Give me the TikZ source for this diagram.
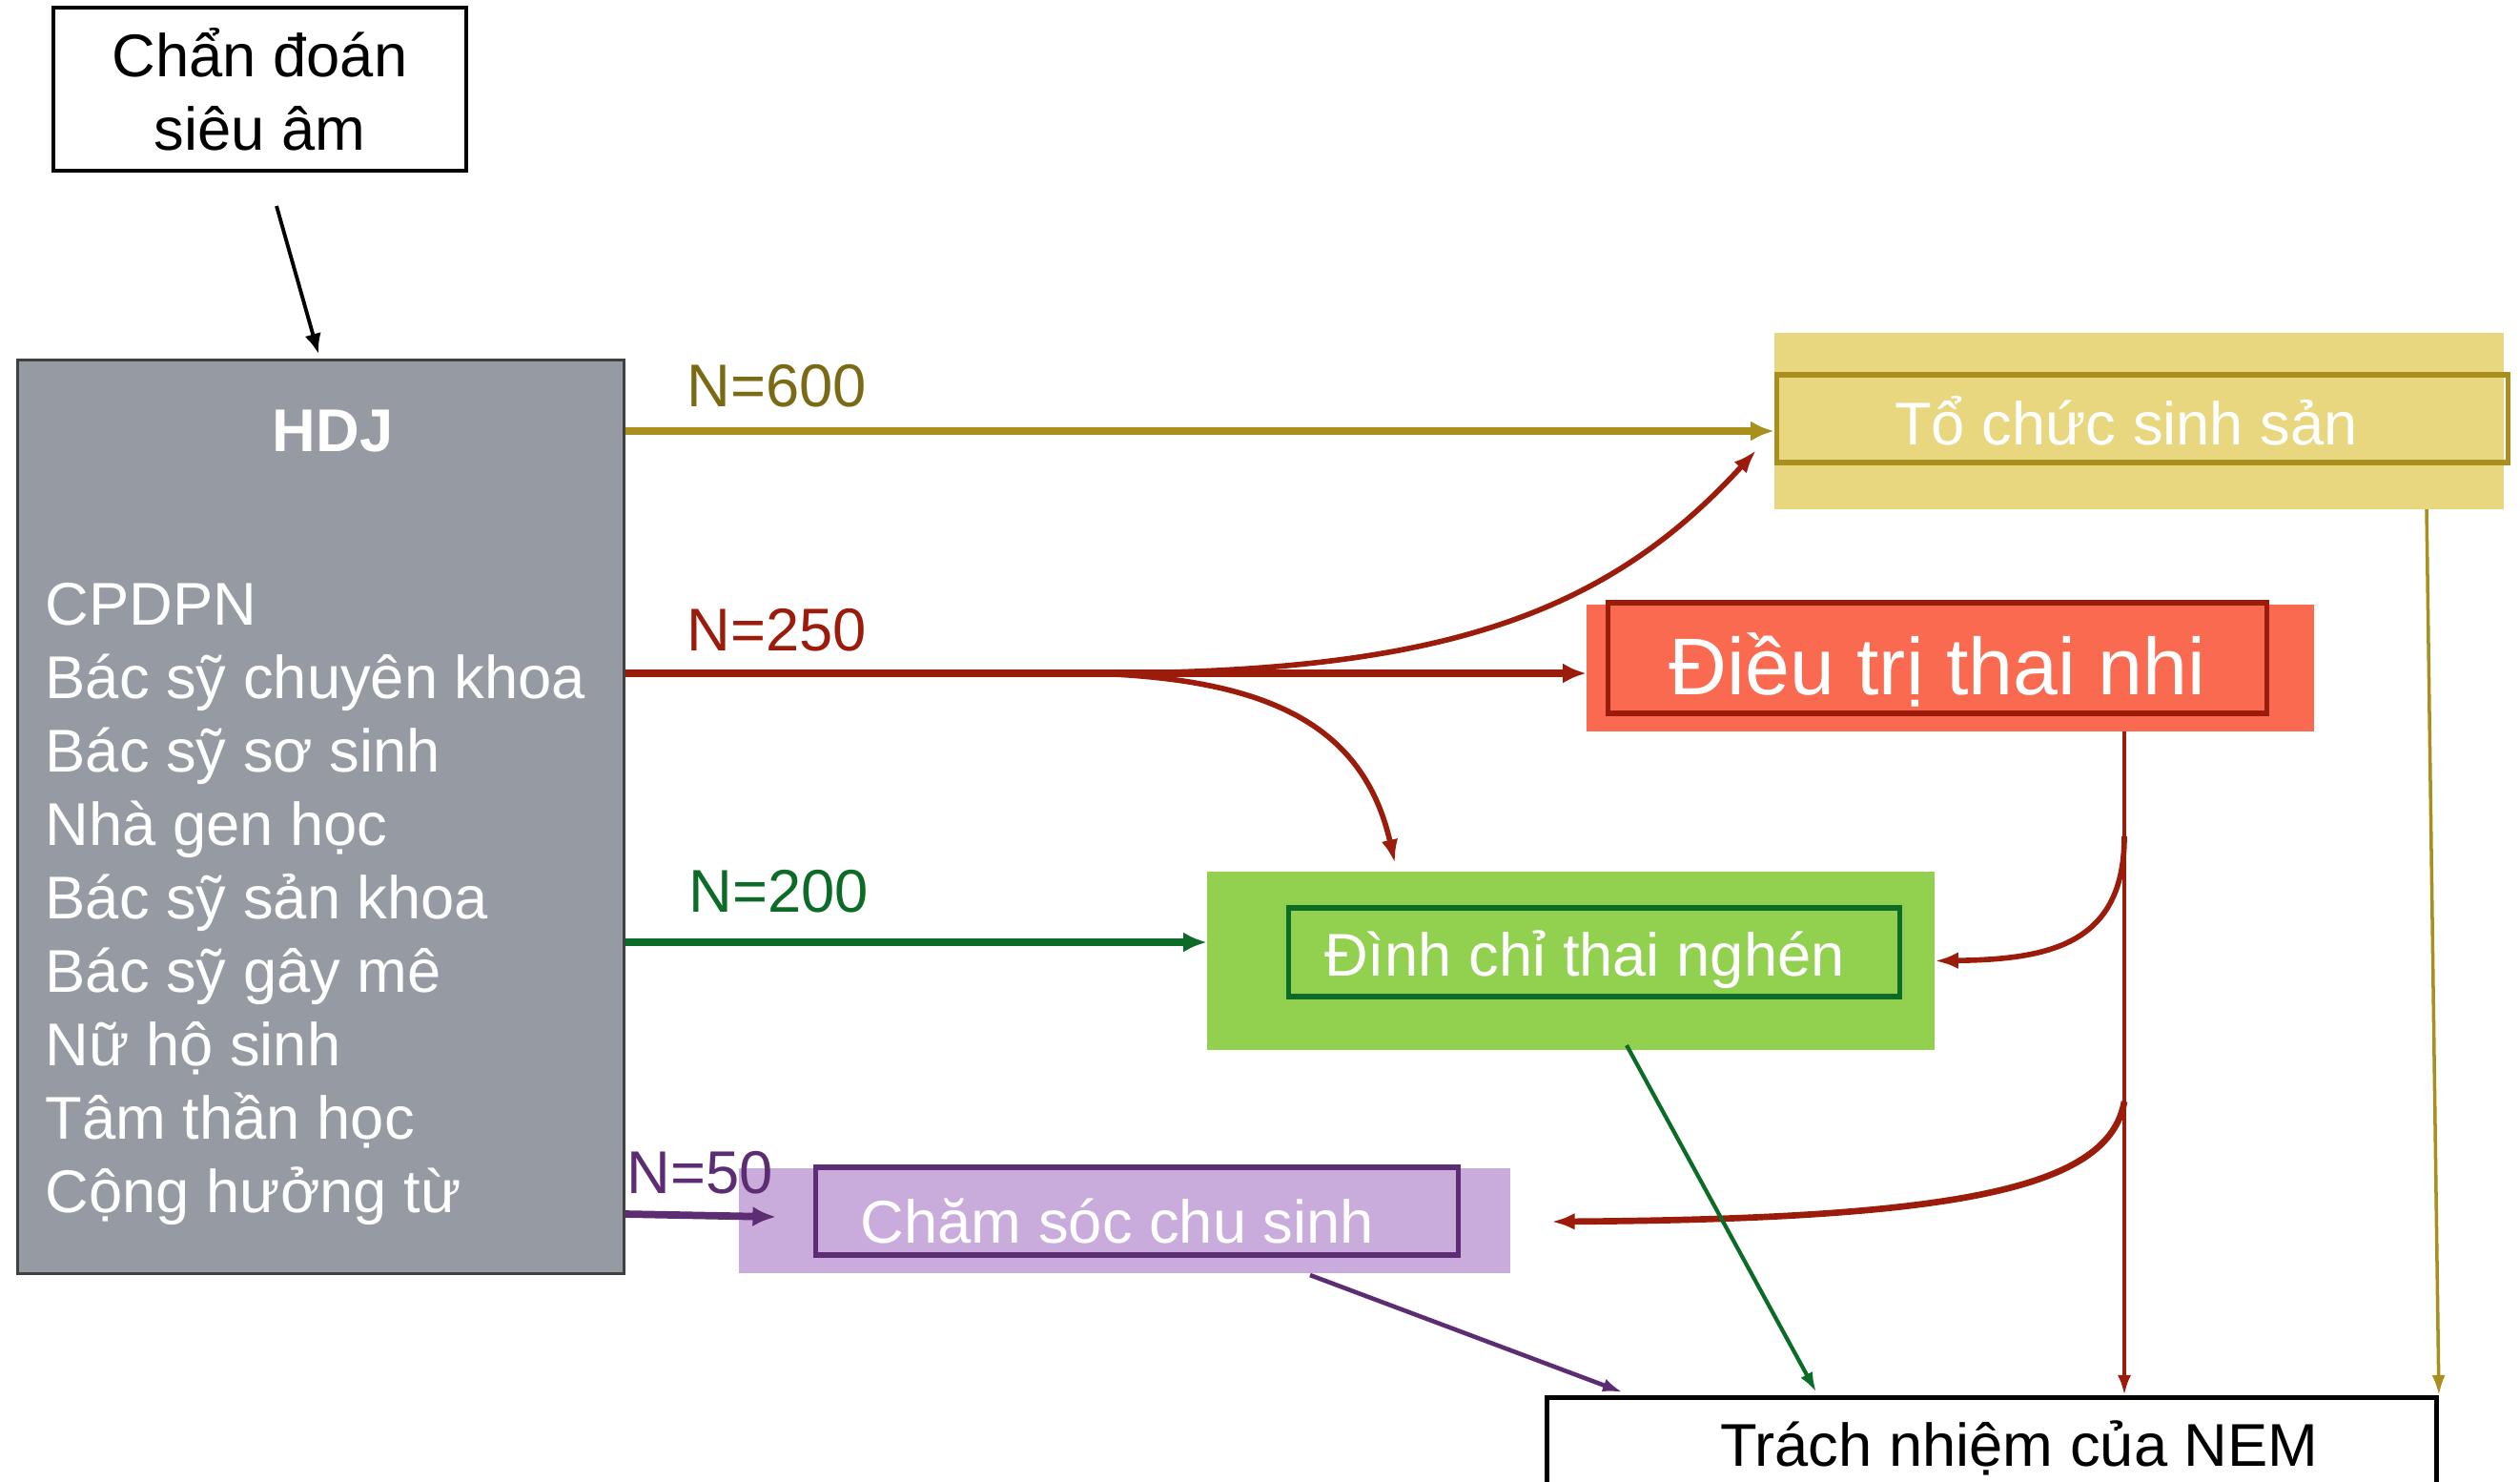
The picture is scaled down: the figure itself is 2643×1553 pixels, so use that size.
\documentclass[tikz,border=0pt]{standalone}
\usepackage{fontspec}
\setmainfont{Liberation Sans}
\usetikzlibrary{arrows.meta}

\definecolor{olivetx}{HTML}{7A6A14}
\definecolor{oliveln}{HTML}{A88F1E}
\definecolor{yelfill}{HTML}{E8D77E}
\definecolor{redln}{HTML}{9B1C0A}
\definecolor{redfill}{HTML}{F96A50}
\definecolor{grnln}{HTML}{0C6B26}
\definecolor{grnfill}{HTML}{92D050}
\definecolor{purln}{HTML}{5C2D73}
\definecolor{purfill}{HTML}{C9ACDB}
\definecolor{hdjgray}{HTML}{959AA3}

\begin{document}
\begin{tikzpicture}[x=0.01cm,y=-0.01cm,font=\fontsize{18}{22}\selectfont,
	bg/.style={inner sep=0,outer sep=0},
	frame/.style={draw,line width=1.5pt,inner sep=0},
	boxtext/.style={inner sep=0,text=white},
	flow/.style={-{Latex[length=7pt,width=6pt]},line width=2.2pt},
	curv/.style={-{Latex[length=7pt,width=5pt]},line width=1.6pt},
	thinarr/.style={-{Latex[length=6pt,width=4pt]},line width=1pt}]
		\useasboundingbox (0,0) rectangle (2643,1553);

		% left side
		\node[draw,line width=1.2pt,minimum width=4.33cm,minimum height=1.71cm,align=center] (diag) at (272.5,93.5) {Chẩn đoán\\siêu âm};
		\node[draw=black!75,line width=0.8pt,fill=hdjgray,minimum width=6.35cm,minimum height=9.57cm] (hdj) at (336.5,856.5) {};
		\node[text=white,font=\fontsize{18}{22}\selectfont\bfseries] (hdjt) at (349,452) {HDJ};
		\foreach \t [count=\i from 0] in {CPDPN,Bác sỹ chuyên khoa,Bác sỹ sơ sinh,Nhà gen học,Bác sỹ sản khoa,Bác sỹ gây mê,Nữ hộ sinh,Tâm thần học,Cộng hưởng từ}
		\node[anchor=base west,inner sep=0,text=white] (m\i) at (47,655+77*\i) {\t};

		% boxes
		\node[bg,fill=yelfill,minimum width=7.65cm,minimum height=1.85cm] (tsbg) at (2243.5,441.5) {};
		\node[frame,draw=oliveln,minimum width=7.66cm,minimum height=0.92cm] (ts) at (2247,439) {};
		\node[boxtext] (tst) at (2230,441) {Tổ chức sinh sản};
		\node[bg,fill=redfill,minimum width=7.63cm,minimum height=1.33cm] (dtbg) at (2045.5,700.5) {};
		\node[frame,draw=redln,minimum width=6.90cm,minimum height=1.16cm] (dt) at (2032,690) {};
		\node[boxtext,font=\fontsize{24}{28}\selectfont] (dtt) at (2032,702) {Điều trị thai nhi};
		\node[bg,fill=grnfill,minimum width=7.63cm,minimum height=1.87cm] (dcbg) at (1647.5,1007.5) {};
		\node[frame,draw=grnln,minimum width=6.40cm,minimum height=0.93cm] (dc) at (1672,998.5) {};
		\node[boxtext] (dct) at (1662,1006) {Đình chỉ thai nghén};
		\node[bg,fill=purfill,minimum width=8.09cm,minimum height=1.10cm] (csbg) at (1179.5,1280) {};
		\node[frame,draw=purln,minimum width=6.73cm,minimum height=0.92cm] (cs) at (1192.5,1270) {};
		\node[boxtext] (cst) at (1172,1280) {Chăm sóc chu sinh};
		\node[draw,line width=1.5pt,minimum width=9.32cm,minimum height=1.1cm,anchor=north] (nem) at (2089,1463) {};
		\node[inner sep=0] (nemt) at (2118,1518) {Trách nhiệm của NEM};

		% labels
		\node[anchor=west,inner sep=0,text=olivetx] (n600) at (720,405) {N=600};
		\node[anchor=west,inner sep=0,text=redln] (n250) at (720,661) {N=250};
		\node[anchor=west,inner sep=0,text=grnln] (n200) at (722,935) {N=200};
		\node[anchor=west,inner sep=0,text=purln] (n50) at (657,1230) {N=50};

		\coordinate (r600) at (0,452);
		\coordinate (r250) at (0,706);
		\coordinate (r200) at (0,988);
		\coordinate (r50) at (0,1273);
		\coordinate (fork) at (1146,706);
		\coordinate (b1) at (2228,877);
		\coordinate (b2) at (2228,1155);

		% connectors
		\draw[-{Latex[length=6pt,width=5pt]},line width=1.1pt] (290,216) coordinate (d0) -- (334,371) coordinate (d1);
		\draw[flow,oliveln] (hdj.east |- r600) -- (tsbg.west |- r600);
		\draw[flow,redln] (hdj.east |- r250) -- (dtbg.west |- r250);
		\draw[curv,redln] (fork) .. controls (1500,706) and (1680,650) .. (1842,472) coordinate (tsin);
		\draw[curv,redln] (fork) .. controls (1330,712) and (1430,760) .. (1463,905) coordinate (dcin);
		\draw[flow,grnln] (hdj.east |- r200) -- (dcbg.west |- r200);
		\draw[flow,purln] (hdj.east |- r50) -- (814,1276) coordinate (csin);
		\draw[thinarr,redln,line width=1.1pt] (2228,767) coordinate (dtout) -- (nem.north -| dtout);
		\draw[curv,redln] (b1) .. controls (2228,990) and (2150,1006) .. (dcbg.east);
		\draw[curv,redln,line width=1.9pt] (b2) .. controls (2212,1245) and (2060,1278) .. (1627,1281) coordinate (cstip);
		\draw[thinarr,oliveln] (2545,534) coordinate (tsout) -- (nem.north east);
		\draw[thinarr,grnln,line width=1.2pt] (1706,1096) coordinate (dcout) -- (1905,1460) coordinate (nemg);
		\draw[thinarr,purln,line width=1.3pt] (1374,1337) coordinate (csout) -- (1702,1460) coordinate (nemp);
	    \end{tikzpicture}
\end{document}
